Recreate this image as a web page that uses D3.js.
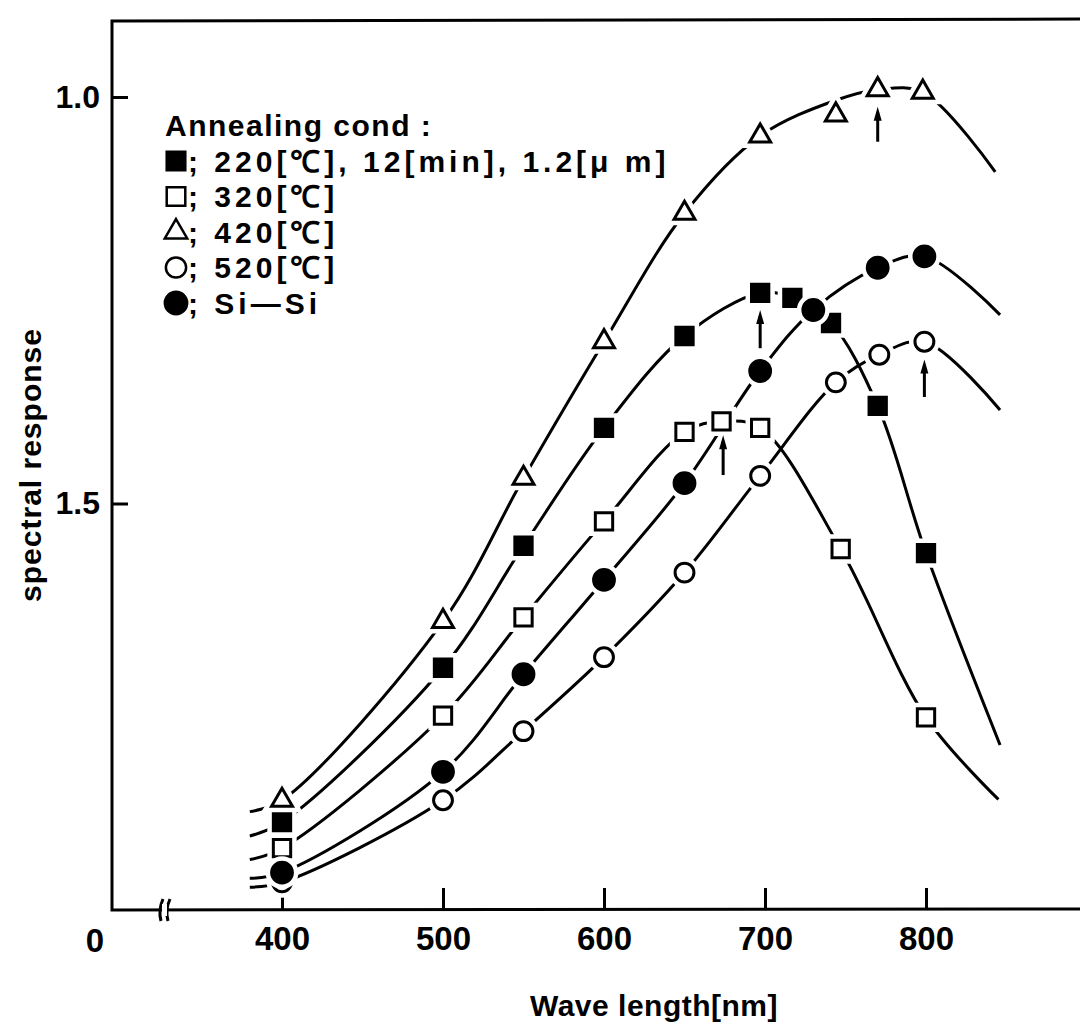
<!DOCTYPE html>
<html>
<head>
<meta charset="utf-8">
<script src="https://cdn.jsdelivr.net/npm/d3@7"></script>
<style>
    body { margin: 0; background: #fff; }
    text { font-family: "Liberation Sans", Arial, sans-serif; font-weight: bold; fill: #000; }
</style>
</head>
<body>
<div id="chart"></div>
<script>
(function () {

    // wavelength [nm] and spectral response of each sample
    var nm220 = [400, 500, 550, 600, 650, 697, 717, 741, 770, 800];
    var val220 = [0.108, 0.298, 0.448, 0.593, 0.706, 0.759, 0.753, 0.722, 0.620, 0.439];

    var nm320 = [400, 500, 550, 600, 650, 673, 697, 747, 800];
    var val320 = [0.076, 0.239, 0.360, 0.478, 0.588, 0.601, 0.593, 0.444, 0.237];

    var nm420 = [400, 500, 550, 600, 650, 697, 744, 770, 798];
    var val420 = [0.135, 0.355, 0.531, 0.699, 0.857, 0.952, 0.978, 1.009, 1.006];

    var nm520 = [400, 500, 550, 600, 650, 697, 744, 771, 799];
    var val520 = [0.034, 0.135, 0.220, 0.311, 0.415, 0.534, 0.649, 0.683, 0.699];

    var nmSiSi = [400, 500, 550, 600, 650, 697, 730, 770, 799];
    var valSiSi = [0.046, 0.170, 0.290, 0.406, 0.525, 0.663, 0.738, 0.790, 0.804];

    // the drawn curves run a little past the data at both ends
    var ends220 = [[380, 0.091], [846, 0.203]];
    var ends320 = [[380, 0.062], [845, 0.136]];
    var ends420 = [[380, 0.121], [843, 0.908]];
    var ends520 = [[380, 0.028], [846, 0.615]];
    var endsSiSi = [[380, 0.039], [846, 0.732]];
    // where the fitted 420 curve passes above the scattered point at 744 nm
    var fit420 = [744, 0.996];

    // peak arrows: wavelength, arrow tip and tail (response units)
    var arrowNm = [770, 697, 674, 799];
    var arrowTop = [0.988, 0.738, 0.584, 0.677];
    var arrowBottom = [0.945, 0.691, 0.535, 0.631];

    var legendTitle = 'Annealing cond :';
    var legendLabels = ['; 220[℃], 12[min], 1.2[μ m]', '; 320[℃]', '; 420[℃]', '; 520[℃]', '; Si—Si'];

    var xTicks = [400, 500, 600, 700, 800];
    var yTicks = [0.5, 1.0];
    var yTickLabels = ['1.5', '1.0'];

    var width = 1080, height = 1036;
    var left = 112, top = 21, bottom = 910;

    var svg = d3.select('#chart')
        .append('svg')
        .attr('width', width)
        .attr('height', height);

    var x = d3.scaleLinear().domain([400, 800]).range([282, 926]);
    var y = d3.scaleLinear().domain([0, 1]).range([bottom, 97]);

    var series = [
        { nm: nm220, val: val220, ends: ends220, shape: d3.symbolSquare, size: 300, filled: true },
        { nm: nm320, val: val320, ends: ends320, shape: d3.symbolSquare, size: 300, filled: false },
        { nm: nm420, val: val420, ends: ends420, shape: d3.symbolTriangle, size: 190, filled: false, fit: fit420 },
        { nm: nm520, val: val520, ends: ends520, shape: d3.symbolCircle, size: 280, filled: false },
        { nm: nmSiSi, val: valSiSi, ends: endsSiSi, shape: d3.symbolCircle, size: 340, filled: true }
    ];

    // frame: left axis and top rule, bottom axis with a break near the origin
    var frame = svg.append('g')
        .attr('fill', 'none')
        .attr('stroke', '#000')
        .attr('stroke-width', 3);

    frame.append('path')
        .attr('d', 'M' + width + ',' + (top - 2) + 'L' + left + ',' + top + 'L' + left + ',' + bottom + 'L' + width + ',' + (bottom - 1));

    svg.append('rect')
        .attr('x', 162).attr('y', bottom - 6)
        .attr('width', 5).attr('height', 12)
        .attr('fill', '#fff');
    frame.append('path').attr('d', 'M161,' + (bottom + 11) + 'Q158,' + bottom + ' 163,' + (bottom - 11));
    frame.append('path').attr('d', 'M168,' + (bottom + 11) + 'Q165,' + bottom + ' 170,' + (bottom - 11));

    // x axis ticks point inward, labels below
    var xAxis = svg.append('g')
        .attr('transform', 'translate(0,' + bottom + ')')
        .call(d3.axisBottom(x).tickValues(xTicks).tickSizeInner(-22).tickSizeOuter(0).tickPadding(17));
    xAxis.select('.domain').remove();
    xAxis.selectAll('line').attr('stroke-width', 3);
    xAxis.selectAll('text')
        .attr('font-family', null)
        .attr('font-size', 33);

    svg.append('text')
        .attr('x', 95).attr('y', 940)
        .attr('dy', '0.35em')
        .attr('text-anchor', 'middle')
        .attr('font-size', 33)
        .text('0');

    var yAxis = svg.append('g')
        .attr('transform', 'translate(' + left + ',0)')
        .call(d3.axisLeft(y).tickValues(yTicks).tickSizeInner(-16).tickSizeOuter(0).tickPadding(12)
            .tickFormat(function (d, i) { return yTickLabels[i]; }));
    yAxis.select('.domain').remove();
    yAxis.selectAll('line').attr('stroke-width', 3);
    yAxis.selectAll('text')
        .attr('font-family', null)
        .attr('font-size', 32);

    // axis titles
    svg.append('text')
        .attr('transform', 'translate(30,465) rotate(-90)')
        .attr('text-anchor', 'middle')
        .attr('dy', '0.35em')
        .attr('font-size', 30)
        .attr('letter-spacing', 1)
        .text('spectral response');

    svg.append('text')
        .attr('x', 654).attr('y', 1005)
        .attr('text-anchor', 'middle')
        .attr('dy', '0.35em')
        .attr('font-size', 30)
        .attr('letter-spacing', 0.5)
        .text('Wave length[nm]');

    // smooth curves through the samples
    var line = d3.line()
        .x(function (d) { return x(d[0]); })
        .y(function (d) { return y(d[1]); })
        .curve(d3.curveCatmullRom.alpha(0.5));

    series.forEach(function (s) {
        var knots = s.nm.map(function (n, i) {
            if (s.fit && s.fit[0] === n) return s.fit;
            return [n, s.val[i]];
        });
        knots = [s.ends[0]].concat(knots, [s.ends[1]]);
        svg.append('path')
            .attr('d', line(knots))
            .attr('fill', 'none')
            .attr('stroke', '#000')
            .attr('stroke-width', 3);
    });

    // markers, each with a white halo so the curve breaks around it
    series.forEach(function (s) {
        var sym = d3.symbol().type(s.shape).size(s.size);
        var pts = s.nm.map(function (n, i) { return [n, s.val[i]]; });
        var g = svg.append('g');
        g.selectAll('.halo')
            .data(pts)
            .enter()
            .append('path')
            .attr('class', 'halo')
            .attr('transform', function (d) { return 'translate(' + x(d[0]) + ',' + y(d[1]) + ')'; })
            .attr('d', sym)
            .attr('fill', '#fff')
            .attr('stroke', '#fff')
            .attr('stroke-width', 12);
        g.selectAll('.mark')
            .data(pts)
            .enter()
            .append('path')
            .attr('class', 'mark')
            .attr('transform', function (d) { return 'translate(' + x(d[0]) + ',' + y(d[1]) + ')'; })
            .attr('d', sym)
            .attr('fill', s.filled ? '#000' : '#fff')
            .attr('stroke', '#000')
            .attr('stroke-width', 3);
    });

    // arrows pointing at the peaks
    var arrows = svg.append('g');
    arrowNm.forEach(function (n, i) {
        var ax = x(n), y0 = y(arrowBottom[i]), y1 = y(arrowTop[i]);
        arrows.append('line')
            .attr('x1', ax).attr('x2', ax)
            .attr('y1', y0).attr('y2', y1 + 6)
            .attr('stroke', '#000')
            .attr('stroke-width', 3);
        arrows.append('path')
            .attr('d', 'M' + ax + ',' + y1 + 'L' + (ax - 4) + ',' + (y1 + 14) + 'L' + (ax + 4) + ',' + (y1 + 14) + 'Z')
            .attr('fill', '#000');
    });

    // legend
    var legend = svg.append('g');
    legend.append('text')
        .attr('x', 165).attr('y', 125)
        .attr('dy', '0.35em')
        .attr('font-size', 30)
        .attr('letter-spacing', 1.5)
        .text(legendTitle);

    var rows = legend.selectAll('.legend')
        .data(series)
        .enter()
        .append('g')
        .attr('class', 'legend')
        .attr('transform', function (d, i) { return 'translate(176,' + (161 + i * 35.5) + ')'; });

    rows.append('path')
        .attr('d', function (d) { return d3.symbol().type(d.shape).size(d.size * 1.15)(); })
        .attr('fill', function (d) { return d.filled ? '#000' : '#fff'; })
        .attr('stroke', '#000')
        .attr('stroke-width', 2.5);

    rows.append('text')
        .attr('x', 12)
        .attr('dy', '0.35em')
        .attr('font-size', 30)
        .attr('letter-spacing', 4)
        .text(function (d, i) { return legendLabels[i]; });
})();
</script>
</body>
</html>
